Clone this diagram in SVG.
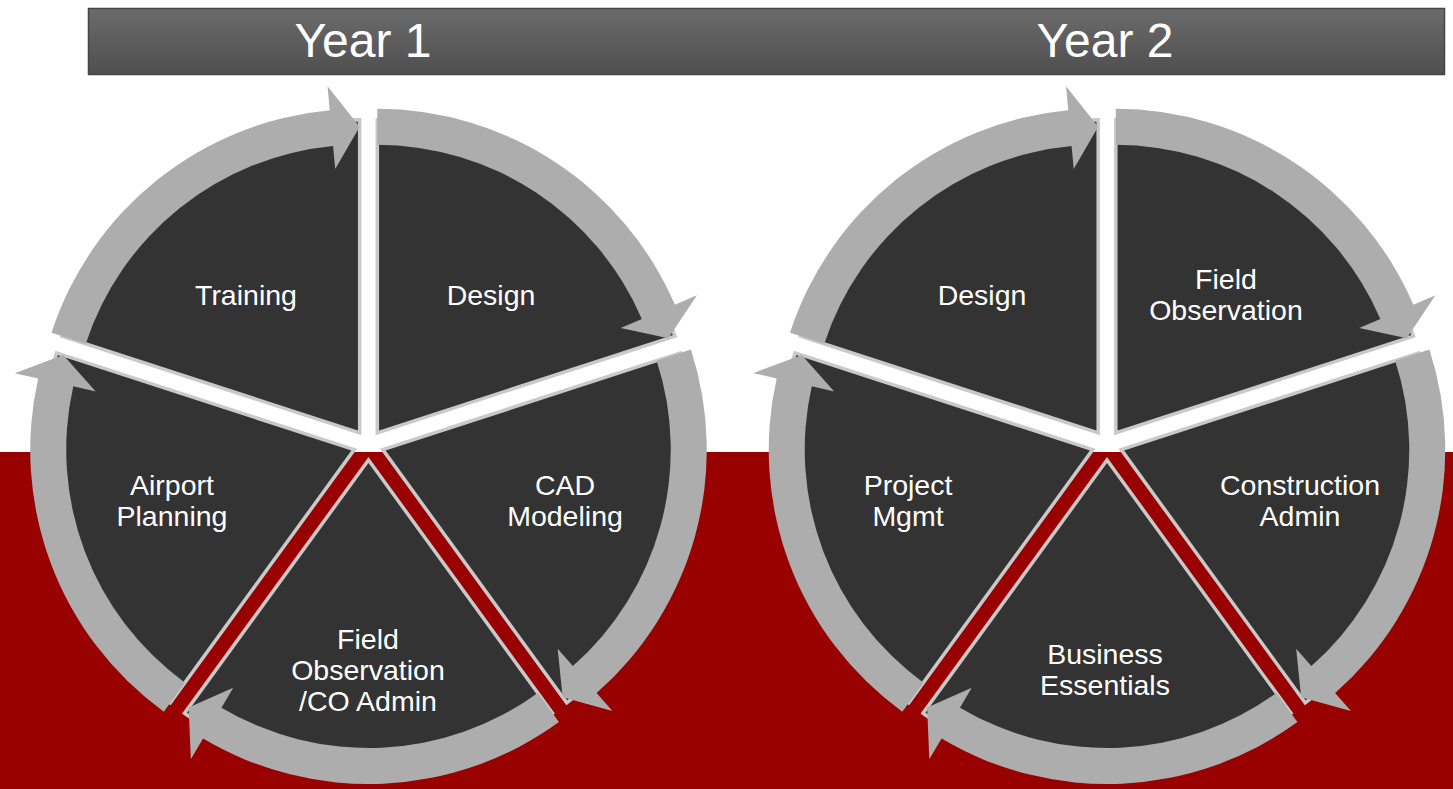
<svg xmlns="http://www.w3.org/2000/svg" width="1453" height="789" viewBox="0 0 1453 789">
  <defs>
    <linearGradient id="hdr" x1="0" y1="0" x2="0" y2="1">
      <stop offset="0" stop-color="#6b6b6b"/>
      <stop offset="1" stop-color="#4f4f4f"/>
    </linearGradient>
    <path id="wedge" d="M0,0 L0,-313 A313,313 0 0 1 297.68,-96.72 Z"/>
    <path id="arc" d="M0,-324 A324,324 0 0 1 297.58,-128.16 L319.62,-137.65 L291.02,-94.56 L243.39,-104.82 L264.51,-113.92 A288,288 0 0 0 0,-288 Z"/>
    <style>
      .slice { fill: #333333; stroke: #c9c9c9; stroke-width: 3.5; stroke-linejoin: miter; }
      .arrow { fill: #adadad; }
      .lbl { font-family: "Liberation Sans", Arial, sans-serif; font-size: 28.5px; fill: #ffffff; text-anchor: middle; }
      .year { font-family: "Liberation Sans", Arial, sans-serif; font-size: 48px; fill: #ffffff; text-anchor: middle; }
    </style>
  </defs>

  <!-- background -->
  <rect x="0" y="0" width="1453" height="789" fill="#ffffff"/>
  <rect x="0" y="452" width="1453" height="337" fill="#990000"/>

  <!-- header -->
  <g id="header">
    <rect x="88.5" y="8.5" width="1356" height="66" fill="url(#hdr)" stroke="#454545" stroke-width="1.5"/>
    <text class="year" x="363" y="57">Year 1</text>
    <text class="year" x="1105" y="57">Year 2</text>
  </g>

  <!-- Year 1 cycle -->
  <g id="y1-design">
    <use href="#wedge" class="slice" transform="translate(368.5,445) rotate(0) translate(8.817,-12.135)"/>
    <text class="lbl" x="491" y="305">Design</text>
  </g>
  <g id="y1-cad">
    <use href="#wedge" class="slice" transform="translate(368.5,445) rotate(72) translate(8.817,-12.135)"/>
    <text class="lbl" x="565" y="495">CAD</text>
    <text class="lbl" x="565" y="526">Modeling</text>
  </g>
  <g id="y1-field">
    <use href="#wedge" class="slice" transform="translate(368.5,445) rotate(144) translate(8.817,-12.135)"/>
    <text class="lbl" x="368" y="649">Field</text>
    <text class="lbl" x="368" y="680">Observation</text>
    <text class="lbl" x="368" y="711">/CO Admin</text>
  </g>
  <g id="y1-airport">
    <use href="#wedge" class="slice" transform="translate(368.5,445) rotate(216) translate(8.817,-12.135)"/>
    <text class="lbl" x="172" y="495">Airport</text>
    <text class="lbl" x="172" y="526">Planning</text>
  </g>
  <g id="y1-training">
    <use href="#wedge" class="slice" transform="translate(368.5,445) rotate(288) translate(8.817,-12.135)"/>
    <text class="lbl" x="246" y="305">Training</text>
  </g>

  <!-- Year 2 cycle -->
  <g id="y2-field">
    <use href="#wedge" class="slice" transform="translate(1107,445) rotate(0) translate(8.817,-12.135)"/>
    <text class="lbl" x="1226" y="289">Field</text>
    <text class="lbl" x="1226" y="320">Observation</text>
  </g>
  <g id="y2-construction">
    <use href="#wedge" class="slice" transform="translate(1107,445) rotate(72) translate(8.817,-12.135)"/>
    <text class="lbl" x="1300" y="495">Construction</text>
    <text class="lbl" x="1300" y="526">Admin</text>
  </g>
  <g id="y2-business">
    <use href="#wedge" class="slice" transform="translate(1107,445) rotate(144) translate(8.817,-12.135)"/>
    <text class="lbl" x="1105" y="664">Business</text>
    <text class="lbl" x="1105" y="695">Essentials</text>
  </g>
  <g id="y2-project">
    <use href="#wedge" class="slice" transform="translate(1107,445) rotate(216) translate(8.817,-12.135)"/>
    <text class="lbl" x="908" y="495">Project</text>
    <text class="lbl" x="908" y="526">Mgmt</text>
  </g>
  <g id="y2-design">
    <use href="#wedge" class="slice" transform="translate(1107,445) rotate(288) translate(8.817,-12.135)"/>
    <text class="lbl" x="982" y="305">Design</text>
  </g>

  <!-- connectors: circular arrows -->
  <g id="connectors">
    <use href="#arc" class="arrow" transform="translate(368.5,445) rotate(0) translate(8.817,-12.135)"/>
    <use href="#arc" class="arrow" transform="translate(368.5,445) rotate(72) translate(8.817,-12.135)"/>
    <use href="#arc" class="arrow" transform="translate(368.5,445) rotate(144) translate(8.817,-12.135)"/>
    <use href="#arc" class="arrow" transform="translate(368.5,445) rotate(216) translate(8.817,-12.135)"/>
    <use href="#arc" class="arrow" transform="translate(368.5,445) rotate(288) translate(8.817,-12.135)"/>
    <use href="#arc" class="arrow" transform="translate(1107,445) rotate(0) translate(8.817,-12.135)"/>
    <use href="#arc" class="arrow" transform="translate(1107,445) rotate(72) translate(8.817,-12.135)"/>
    <use href="#arc" class="arrow" transform="translate(1107,445) rotate(144) translate(8.817,-12.135)"/>
    <use href="#arc" class="arrow" transform="translate(1107,445) rotate(216) translate(8.817,-12.135)"/>
    <use href="#arc" class="arrow" transform="translate(1107,445) rotate(288) translate(8.817,-12.135)"/>
  </g>
</svg>
